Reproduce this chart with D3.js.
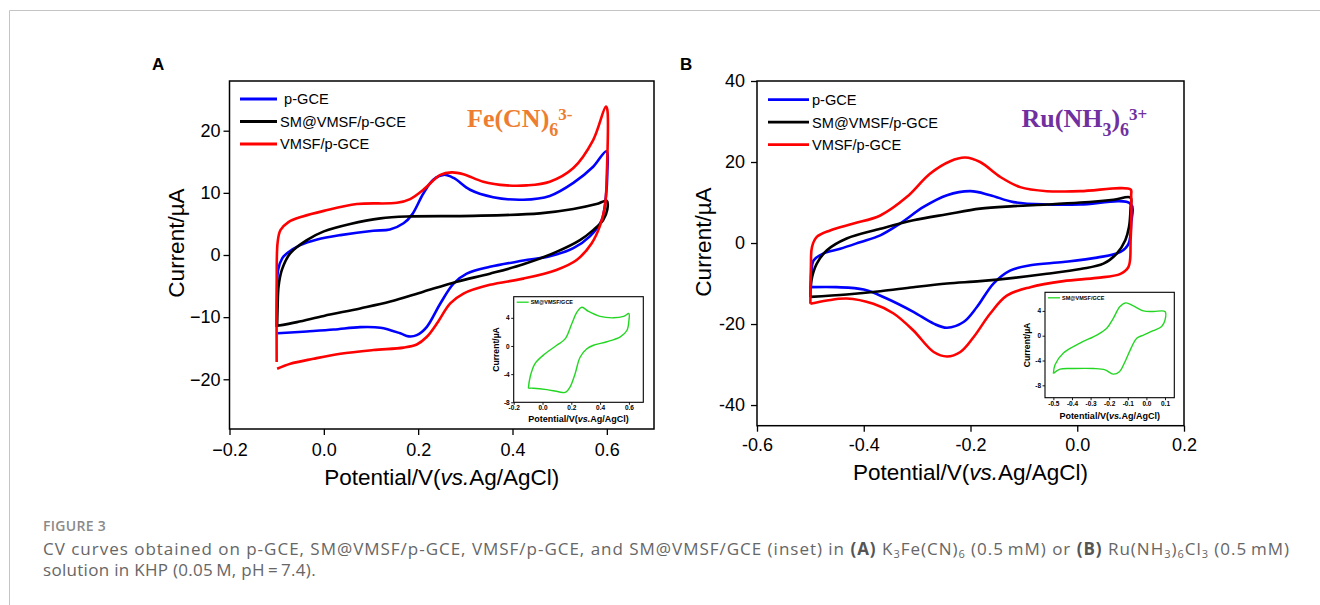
<!DOCTYPE html>
<html>
<head>
<meta charset="utf-8">
<script src="https://cdn.jsdelivr.net/npm/d3@7"></script>
<style>
  body { margin: 0; background: #fff; }
  svg { display: block; }
  text { font-family: "Liberation Sans", Arial, sans-serif; fill: #000; }
  .caption { font-family: "Open Sans", "Noto Sans", sans-serif; fill: #666; }
</style>
</head>
<body>
<svg id="fig" width="1320" height="605"></svg>
<script>
// ---- data (potential V, current uA) ----
const legendA = [' p-GCE', 'SM@VMSF/p-GCE', 'VMSF/p-GCE']
const legendB = ['p-GCE', 'SM@VMSF/p-GCE', 'VMSF/p-GCE']
const insetLabel = 'SM@VMSF/GCE'

const aBlue = [
  [-0.1, -11.6], [-0.099, -6], [-0.097, -2.4], [-0.088, -0.5], [-0.078, 0.3], [-0.05, 1.6],
  [-0.014, 2.5], [0.035, 3.2], [0.105, 3.9], [0.14, 4.1], [0.169, 5.1], [0.187, 6.5],
  [0.211, 9.9], [0.232, 12.1], [0.254, 12.9], [0.275, 12.4], [0.31, 10.5], [0.359, 9.3],
  [0.423, 8.9], [0.479, 9.5], [0.529, 11.6], [0.571, 14.2], [0.599, 16.7],
  [0.601, 13.2], [0.598, 9.4], [0.589, 5.6], [0.564, 3], [0.529, 1.1], [0.479, -0.2],
  [0.423, -0.9], [0.352, -1.9], [0.303, -3], [0.275, -4.6], [0.247, -7.8], [0.218, -11.6],
  [0.197, -12.9], [0.18, -13.1], [0.162, -12.6], [0.12, -11.7], [0.077, -11.6],
  [0.021, -12], [-0.036, -12.3], [-0.098, -12.6]
]
const aBlack = [
  [-0.099, -11.4], [-0.098, -8.3], [-0.096, -5.1], [-0.089, -2.4], [-0.071, 0.3],
  [-0.036, 2.4], [0.0, 3.8], [0.056, 5], [0.12, 5.9], [0.176, 6.2], [0.317, 6.3],
  [0.458, 6.7], [0.529, 7.4], [0.578, 8.2], [0.6, 8.7],
  [0.601, 7.3], [0.592, 5.6], [0.571, 4], [0.543, 2.4], [0.493, 0.5], [0.423, -1.5],
  [0.352, -3], [0.282, -4.3], [0.211, -5.9], [0.141, -7.5], [0.077, -8.6], [0.0, -9.8],
  [-0.057, -10.8], [-0.099, -11.4]
]
const aRed = [
  [-0.1, -17.2], [-0.1, -5], [-0.098, 2], [-0.092, 4], [-0.075, 5.3], [-0.045, 6.2],
  [0.0, 7.1], [0.07, 8.2], [0.155, 8.4], [0.183, 9], [0.211, 10.5], [0.247, 12.9],
  [0.271, 13.3], [0.296, 13], [0.338, 11.8], [0.388, 11.2], [0.43, 11.2], [0.479, 11.8],
  [0.529, 14], [0.571, 18.5], [0.598, 23.9],
  [0.601, 23.4], [0.6, 13.2], [0.596, 7.8], [0.585, 4.6], [0.568, 1.9], [0.536, -0.8],
  [0.493, -2.4], [0.423, -3.8], [0.352, -4.8], [0.296, -6.2], [0.268, -7.8], [0.24, -11],
  [0.218, -13.2], [0.197, -14.4], [0.169, -14.9], [0.105, -15.3], [0.035, -15.9],
  [-0.022, -16.7], [-0.071, -17.5], [-0.099, -18.3]
]
const aInset = [
  [-0.098, -6.0], [-0.086, -4.4], [-0.052, -2.5], [0.018, -1.1], [0.099, 0.1], [0.157, 1.0],
  [0.204, 3.2], [0.239, 4.8], [0.273, 5.5], [0.32, 4.9], [0.4, 4.2], [0.493, 4.0],
  [0.563, 4.2], [0.6, 4.6],
  [0.6, 3.6], [0.586, 2.2], [0.54, 1.3], [0.447, 0.6], [0.354, 0.1], [0.308, -0.4],
  [0.261, -1.6], [0.227, -3.9], [0.192, -5.8], [0.157, -6.6], [0.111, -6.5], [0.03, -6.2],
  [-0.063, -6.0], [-0.098, -6.0]
]

const bBlue = [
  [-0.499, -10.9], [-0.498, -7], [-0.494, -4.3], [-0.476, -2.6], [-0.444, -1.4],
  [-0.407, 0.2], [-0.369, 1.9], [-0.332, 4.8], [-0.288, 8.9], [-0.244, 11.8], [-0.2, 12.8],
  [-0.163, 11.8], [-0.119, 10.1], [-0.057, 9.5], [0.006, 9.5], [0.1, 9.7],
  [0.101, 4.8], [0.096, -0.2], [0.081, -2.2], [0.037, -3.6], [-0.026, -4.7], [-0.088, -5.5],
  [-0.126, -6.8], [-0.157, -10], [-0.188, -15.8], [-0.213, -19.5], [-0.244, -20.9],
  [-0.269, -19.9], [-0.307, -17], [-0.357, -13.7], [-0.4, -11.5], [-0.451, -10.9],
  [-0.499, -10.9]
]
const bBlack = [
  [-0.5, -13.3], [-0.498, -9.2], [-0.488, -5.1], [-0.469, -1.8], [-0.432, 1.1],
  [-0.369, 3.5], [-0.307, 5.6], [-0.244, 7.1], [-0.182, 8.5], [-0.119, 9.1], [-0.057, 9.5],
  [0.006, 10], [0.068, 10.7], [0.1, 11.2],
  [0.1, 8.9], [0.097, 4], [0.09, 0.7], [0.074, -2.6], [0.049, -5.1], [0.006, -6.4],
  [-0.057, -7.6], [-0.119, -8.6], [-0.182, -9.4], [-0.244, -10], [-0.307, -10.9],
  [-0.369, -11.9], [-0.432, -12.7], [-0.5, -13.3]
]
const bRed = [
  [-0.5, -15], [-0.499, -6], [-0.497, -1], [-0.488, 1.5], [-0.463, 3.1], [-0.419, 4.8],
  [-0.369, 6.8], [-0.319, 11.4], [-0.276, 17.1], [-0.238, 20.2], [-0.21, 21.1],
  [-0.182, 20], [-0.144, 16.3], [-0.107, 13.8], [-0.057, 12.8], [0.006, 12.8], [0.1, 13.2],
  [0.101, 11.8], [0.1, 0.7], [0.096, -5.9], [0.081, -7.6], [0.037, -8.6], [-0.026, -9.4],
  [-0.088, -10.9], [-0.132, -13], [-0.163, -17.4], [-0.194, -23.2], [-0.219, -26.9],
  [-0.244, -28], [-0.269, -26.9], [-0.307, -21.6], [-0.344, -17.4], [-0.382, -15],
  [-0.432, -13.7], [-0.469, -14.2], [-0.5, -15]
]
const bInset = [
  [-0.5, -6.1], [-0.491, -4.7], [-0.446, -2.8], [-0.357, -1.2], [-0.267, 0.1], [-0.213, 1.2],
  [-0.178, 2.8], [-0.142, 4.7], [-0.11, 5.3], [-0.07, 4.8], [-0.016, 4.0], [0.037, 3.9],
  [0.1, 3.9],
  [0.1, 2.5], [0.082, 1.5], [0.037, 0.8], [-0.016, 0.1], [-0.052, -0.4], [-0.079, -1.8],
  [-0.115, -4.2], [-0.145, -5.8], [-0.178, -6.2], [-0.222, -5.5], [-0.285, -5.3],
  [-0.392, -5.3], [-0.464, -5.4], [-0.5, -6.1]
]

const aXTicks = [-0.2, 0.0, 0.2, 0.4, 0.6]
const aYTicks = [-20, -10, 0, 10, 20]
const bXTicks = [-0.6, -0.4, -0.2, 0.0, 0.2]
const bYTicks = [-40, -20, 0, 20, 40]
const aInsetXTicks = [-0.2, 0.0, 0.2, 0.4, 0.6]
const bInsetXTicks = [-0.5, -0.4, -0.3, -0.2, -0.1, 0.0, 0.1]
const insetYTicks = [-8, -4, 0, 4]

const seriesColors = ['#0000ff', '#000000', '#ff0000']
const insetColor = '#22d622'

const svg = d3.select('#fig')

// page frame (thin grey rules at top and left)
svg.append('line').attr('x1', 9.5).attr('x2', 1320).attr('y1', 10.5).attr('y2', 10.5)
  .attr('stroke', '#c4c4c4')
svg.append('line').attr('x1', 9.5).attr('x2', 9.5).attr('y1', 10.5).attr('y2', 605)
  .attr('stroke', '#c4c4c4')

const hyphen = (f) => (d) => f(d).replace('\u2212', '-')

function styleAxis(sel, size, weight) {
  sel.select('.domain').remove()
  sel.selectAll('.tick line').attr('stroke', '#000').attr('stroke-width', 1.3)
  sel.selectAll('.tick text')
    .attr('fill', '#000')
    .style('font-size', size + 'px')
    .style('font-weight', weight)
    .style('font-family', '"Liberation Sans", Arial, sans-serif')
}

function drawPanel(p) {
  const g = svg.append('g')
  const x = d3.scaleLinear().domain(p.xDomain).range([p.left, p.right])
  const y = d3.scaleLinear().domain(p.yDomain).range([p.bottom, p.top])

  const xAxis = g.append('g')
    .attr('transform', `translate(0,${p.bottom})`)
    .call(d3.axisBottom(x).tickValues(p.xTicks).tickFormat(p.xFmt).tickSize(6).tickPadding(p.xPad))
  styleAxis(xAxis, 18, 'normal')

  const yAxis = g.append('g')
    .attr('transform', `translate(${p.left},0)`)
    .call(d3.axisLeft(y).tickValues(p.yTicks).tickFormat(p.yFmt).tickSize(6).tickPadding(p.yPad))
  styleAxis(yAxis, 18, 'normal')

  // curves
  const line = d3.line()
    .x(d => x(d[0]))
    .y(d => y(d[1]))
    .curve(d3.curveCatmullRom.alpha(0.5))

  p.series.forEach((s, i) => {
    g.append('path')
      .datum(s)
      .attr('fill', 'none')
      .attr('stroke', seriesColors[i])
      .attr('stroke-width', 2.6)
      .attr('stroke-linejoin', 'round')
      .attr('d', line)
  })

  // frame
  g.append('rect')
    .attr('x', p.left).attr('y', p.top)
    .attr('width', p.right - p.left).attr('height', p.bottom - p.top)
    .attr('fill', 'none').attr('stroke', '#000').attr('stroke-width', 1.5)

  // legend
  p.legend.forEach((label, i) => {
    const ly = p.legendY + i * 22.5
    g.append('line')
      .attr('x1', p.legendX).attr('x2', p.legendX + p.legendLen)
      .attr('y1', ly).attr('y2', ly)
      .attr('stroke', seriesColors[i]).attr('stroke-width', 2.8)
    g.append('text')
      .attr('x', p.legendX + p.legendLen + 3)
      .attr('y', ly + 5.3)
      .style('font-size', '14.6px')
      .style('white-space', 'pre')
      .text(label)
  })

  // axis titles
  g.append('text')
    .attr('transform', `translate(${p.yTitleX},${p.yTitleY}) rotate(-90)`)
    .attr('text-anchor', 'middle')
    .style('font-size', '22.5px')
    .text('Current/\u00b5A')

  const xt = g.append('text')
    .attr('x', (p.left + p.right) / 2)
    .attr('y', p.xTitleY)
    .attr('text-anchor', 'middle')
    .style('font-size', '22.5px')
  xt.append('tspan').text('Potential/V(')
  xt.append('tspan').style('font-style', 'italic').text('vs.')
  xt.append('tspan').text('Ag/AgCl)')

  // panel letter
  g.append('text')
    .attr('x', p.letterX).attr('y', 70)
    .style('font-size', '17px').style('font-weight', 'bold')
    .text(p.letter)

  drawInset(p.inset)
}

function drawInset(p) {
  const g = svg.append('g')
  const x = d3.scaleLinear().domain(p.xDomain).range([p.left, p.right])
  const y = d3.scaleLinear().domain(p.yDomain).range([p.bottom, p.top])

  const xAxis = g.append('g')
    .attr('transform', `translate(0,${p.bottom})`)
    .call(d3.axisBottom(x).tickValues(p.xTicks).tickFormat(p.xFmt).tickSize(2.5).tickPadding(1))
  styleAxis(xAxis, 6.5, 'bold')

  const yAxis = g.append('g')
    .attr('transform', `translate(${p.left},0)`)
    .call(d3.axisLeft(y).tickValues(insetYTicks).tickFormat(hyphen(d3.format('d'))).tickSize(2.5).tickPadding(1.5))
  styleAxis(yAxis, 6.5, 'bold')
  g.selectAll('.tick line').attr('stroke-width', 0.9)

  const line = d3.line()
    .x(d => x(d[0]))
    .y(d => y(d[1]))
    .curve(d3.curveCatmullRom.alpha(0.5))

  g.append('path')
    .datum(p.data)
    .attr('fill', 'none')
    .attr('stroke', insetColor)
    .attr('stroke-width', 1.4)
    .attr('d', line)

  g.append('rect')
    .attr('x', p.left).attr('y', p.top)
    .attr('width', p.right - p.left).attr('height', p.bottom - p.top)
    .attr('fill', 'none').attr('stroke', '#000').attr('stroke-width', 1.1)

  // legend
  g.append('line')
    .attr('x1', p.left + 3).attr('x2', p.left + 15)
    .attr('y1', p.top + 5.5).attr('y2', p.top + 5.5)
    .attr('stroke', insetColor).attr('stroke-width', 1.3)
  g.append('text')
    .attr('x', p.left + 17).attr('y', p.top + 7.3)
    .style('font-size', '5.5px').style('font-weight', 'bold')
    .text(insetLabel)

  g.append('text')
    .attr('transform', `translate(${p.yTitleX},${(p.top + p.bottom) / 2}) rotate(-90)`)
    .attr('text-anchor', 'middle')
    .style('font-size', '8.6px').style('font-weight', 'bold')
    .text('Current/\u00b5A')

  const xt = g.append('text')
    .attr('x', (p.left + p.right) / 2)
    .attr('y', p.xTitleY)
    .attr('text-anchor', 'middle')
    .style('font-size', '9px').style('font-weight', 'bold')
  xt.append('tspan').text('Potential/V(')
  xt.append('tspan').style('font-style', 'italic').text('vs.')
  xt.append('tspan').text('Ag/AgCl)')
}

// ---- panel A ----
drawPanel({
  letter: 'A', letterX: 152,
  left: 229.5, right: 654, top: 81, bottom: 429,
  xDomain: [-0.2, 0.7], yDomain: [-28, 28],
  xTicks: aXTicks, yTicks: aYTicks,
  xFmt: d3.format('.1f'), yFmt: d3.format('d'),
  xPad: 8, yPad: 3,
  series: [aBlue, aBlack, aRed],
  legend: legendA, legendX: 240, legendY: 99, legendLen: 37,
  yTitleX: 184, yTitleY: 243, xTitleY: 485,
  inset: {
    left: 513.7, right: 643.3, top: 296.7, bottom: 402.3,
    xDomain: [-0.2, 0.7], yDomain: [-8, 7],
    xTicks: aInsetXTicks, xFmt: hyphen(d3.format('.1f')),
    data: aInset, yTitleX: 499, xTitleY: 422.3
  }
})

// ---- panel B ----
drawPanel({
  letter: 'B', letterX: 680,
  left: 757, right: 1184, top: 81, bottom: 425.7,
  xDomain: [-0.6, 0.2], yDomain: [-45.1, 40],
  xTicks: bXTicks, yTicks: bYTicks,
  xFmt: hyphen(d3.format('.1f')), yFmt: hyphen(d3.format('d')),
  xPad: 7, yPad: 6,
  series: [bBlue, bBlack, bRed],
  legend: legendB, legendX: 768, legendY: 99.7, legendLen: 41,
  yTitleX: 711, yTitleY: 242, xTitleY: 480,
  inset: {
    left: 1045, right: 1174.3, top: 292.3, bottom: 397.7,
    xDomain: [-0.545, 0.15], yDomain: [-10, 7],
    xTicks: bInsetXTicks, xFmt: hyphen(d3.format('.1f')),
    data: bInset, yTitleX: 1030, xTitleY: 419
  }
})

// ---- species labels ----
function species(x, yb, color, parts) {
  const t = svg.append('text')
    .attr('x', x).attr('y', yb)
    .style('font-family', '"Liberation Serif", "Times New Roman", serif')
    .style('font-weight', 'bold')
    .style('fill', color)
  parts.forEach(([txt, kind]) => {
    const sp = t.append('tspan').text(txt)
    if (kind === 'sub') sp.style('font-size', '18px').attr('baseline-shift', '-9')
    else if (kind === 'sup') sp.style('font-size', '17px').attr('baseline-shift', '7.5')
    else sp.style('font-size', '26px')
  })
}
species(467, 126.7, '#ed7d31', [['Fe(CN)', 'n'], ['6', 'sub'], ['3-', 'sup']])
species(1021.5, 126.7, '#7030a0', [['Ru(NH', 'n'], ['3', 'sub'], [')', 'n'], ['6', 'sub'], ['3+', 'sup']])

// ---- caption ----
svg.append('text').attr('class', 'caption')
  .attr('x', 43).attr('y', 530.5)
  .style('font-size', '14px').style('font-weight', 600).style('fill', '#8a8a8a')
  .style('letter-spacing', '0.3px')
  .text('FIGURE 3')

const cap1 = svg.append('text').attr('class', 'caption')
  .attr('x', 43).attr('y', 555).style('font-size', '17px')
  .attr('textLength', 1246).attr('lengthAdjust', 'spacing')
const capParts = [
  ['CV curves obtained on p-GCE, SM@VMSF/p-GCE, VMSF/p-GCE, and SM@VMSF/GCE (inset) in ', 'n'],
  ['(A)', 'b'], [' K', 'n'], ['3', 'sub'], ['Fe(CN)', 'n'], ['6', 'sub'], [' (0.5\u2009mM) or ', 'n'],
  ['(B)', 'b'], [' Ru(NH', 'n'], ['3', 'sub'], [')', 'n'], ['6', 'sub'], ['Cl', 'n'], ['3', 'sub'],
  [' (0.5\u2009mM)', 'n']
]
capParts.forEach(([txt, kind]) => {
  const sp = cap1.append('tspan').text(txt)
  if (kind === 'b') sp.style('font-weight', 'bold').style('fill', '#555')
  if (kind === 'sub') sp.style('font-size', '11px').attr('baseline-shift', '-3')
})
svg.append('text').attr('class', 'caption')
  .attr('x', 43).attr('y', 576).style('font-size', '17px')
  .style('letter-spacing', '0.3px')
  .text('solution in KHP (0.05\u2009M, pH\u2009=\u20097.4).')
</script>
</body>
</html>
